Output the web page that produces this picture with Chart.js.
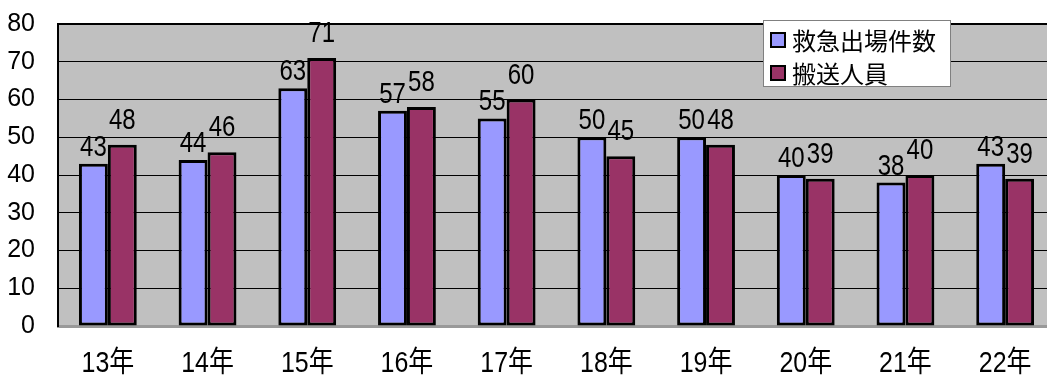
<!DOCTYPE html>
<html>
<head>
<meta charset="utf-8">
<script src="https://cdn.jsdelivr.net/npm/chart.js@4.4.1/dist/chart.umd.min.js"></script>
<style>
  html, body { margin: 0; padding: 0; background: #fff; overflow: hidden; }
  canvas { display: block; }
</style>
</head>
<body>
<canvas id="chart" width="1060" height="376"></canvas>
<script>
// Fiscal years (Heisei) on the category axis
const categories = ['13年', '14年', '15年', '16年', '17年', '18年', '19年', '20年', '21年', '22年'];
// Emergency dispatches per year
const dispatches = [43, 44, 63, 57, 55, 50, 50, 40, 38, 43];
// People transported per year
const transported = [48, 46, 71, 58, 60, 45, 48, 39, 40, 39];
const seriesNames = ['救急出場件数', '搬送人員'];
const yTickValues = [0, 10, 20, 30, 40, 50, 60, 70, 80];

const REGULAR = '"Liberation Sans", "Noto Sans CJK JP", sans-serif';

// Draws text squeezed horizontally to get a narrow, tall face
function narrowText(ctx, text, x, y, squeeze) {
  ctx.save();
  ctx.translate(x, y);
  ctx.scale(squeeze, 1);
  ctx.fillText(text, 0, 0);
  ctx.restore();
}

// Grey plot background
const plotBackground = {
  id: 'plotBackground',
  beforeDraw(chart) {
    const { ctx, chartArea: a } = chart;
    ctx.save();
    ctx.fillStyle = '#c0c0c0';
    ctx.fillRect(a.left, a.top, a.right - a.left, a.bottom - a.top);
    ctx.restore();
  }
};

// Category labels under the axis, in a condensed face
const categoryLabels = {
  id: 'categoryLabels',
  afterDraw(chart, args, opts) {
    const { ctx } = chart;
    const xs = chart.scales.x;
    ctx.save();
    ctx.font = opts.font;
    ctx.fillStyle = '#000';
    ctx.textAlign = 'center';
    ctx.textBaseline = 'alphabetic';
    chart.data.labels.forEach((lab, i) => {
      narrowText(ctx, lab, xs.getPixelForValue(i), xs.top + opts.baseline, opts.squeeze);
    });
    ctx.restore();
  }
};

// Value labels above each bar
const valueLabels = {
  id: 'valueLabels',
  afterDatasetsDraw(chart, args, opts) {
    const { ctx } = chart;
    ctx.save();
    ctx.font = opts.font;
    ctx.fillStyle = '#000';
    ctx.textAlign = 'center';
    ctx.textBaseline = 'alphabetic';
    chart.data.datasets.forEach((ds, di) => {
      const meta = chart.getDatasetMeta(di);
      meta.data.forEach((bar, i) => {
        narrowText(ctx, String(ds.data[i]), bar.x, bar.y - opts.gaps[di], opts.squeeze);
      });
    });
    ctx.restore();
  }
};

// Boxed legend inside the plot, upper right
const boxLegend = {
  id: 'boxLegend',
  afterDraw(chart, args, opts) {
    const { ctx } = chart;
    const x = opts.x, y = opts.y, w = opts.width, h = opts.height;
    ctx.save();
    ctx.fillStyle = '#fff';
    ctx.fillRect(x, y, w, h);
    ctx.strokeStyle = '#808080';
    ctx.lineWidth = 1;
    ctx.strokeRect(x + 0.5, y + 0.5, w - 1, h - 1);
    ctx.font = opts.font;
    ctx.textBaseline = 'middle';
    ctx.textAlign = 'left';
    chart.data.datasets.forEach((ds, di) => {
      const cy = y + opts.firstRow + di * opts.rowGap;
      ctx.fillStyle = ds.backgroundColor;
      ctx.fillRect(x + 8, cy - 7, 14, 14);
      ctx.strokeStyle = '#000';
      ctx.lineWidth = 2;
      ctx.strokeRect(x + 8, cy - 7, 14, 14);
      ctx.fillStyle = '#000';
      ctx.fillText(ds.label, x + 29, cy + 1);
    });
    ctx.restore();
  }
};

new Chart(document.getElementById('chart'), {
  type: 'bar',
  data: {
    labels: categories,
    datasets: [
      {
        label: seriesNames[0],
        data: dispatches,
        backgroundColor: '#9999ff',
        borderColor: '#000',
        borderWidth: 3,
        borderSkipped: false
      },
      {
        label: seriesNames[1],
        data: transported,
        backgroundColor: '#993366',
        borderColor: '#000',
        borderWidth: 3,
        borderSkipped: false
      }
    ]
  },
  options: {
    responsive: false,
    animation: false,
    events: [],
    layout: { padding: { top: 24, right: 5, bottom: 0, left: 0 } },
    datasets: { bar: { categoryPercentage: 0.58, barPercentage: 1.0 } },
    plugins: {
      legend: { display: false },
      tooltip: { enabled: false },
      valueLabels: { font: '30px ' + REGULAR, squeeze: 0.8, gaps: [8, 16] },
      categoryLabels: { font: '29px ' + REGULAR, squeeze: 0.86, baseline: 46 },
      boxLegend: {
        x: 763, y: 20, width: 188, height: 67,
        firstRow: 20, rowGap: 33,
        font: '24px "Noto Sans CJK JP", sans-serif'
      }
    },
    scales: {
      x: {
        grid: { display: false, drawTicks: false },
        border: { display: true, color: '#999999', width: 3 },
        ticks: { display: false },
        afterFit(scale) { scale.height = 50; }
      },
      y: {
        min: 0,
        max: 80,
        afterBuildTicks(scale) { scale.ticks = yTickValues.map(v => ({ value: v })); },
        grid: {
          drawTicks: false,
          color: ctx => (ctx.tick && ctx.tick.value === 0) ? 'rgba(0,0,0,0)' : '#000',
          lineWidth: ctx => (ctx.tick && ctx.tick.value === 80) ? 2 : 1
        },
        border: { display: true, color: '#000', width: 2 },
        ticks: {
          color: '#000',
          font: { family: REGULAR, size: 25 },
          padding: 23
        },
        afterFit(scale) {
          scale.width = 58;
          scale.paddingTop = 0;
          scale.paddingBottom = 0;
        }
      }
    }
  },
  plugins: [plotBackground, valueLabels, categoryLabels, boxLegend]
});
</script>
</body>
</html>
